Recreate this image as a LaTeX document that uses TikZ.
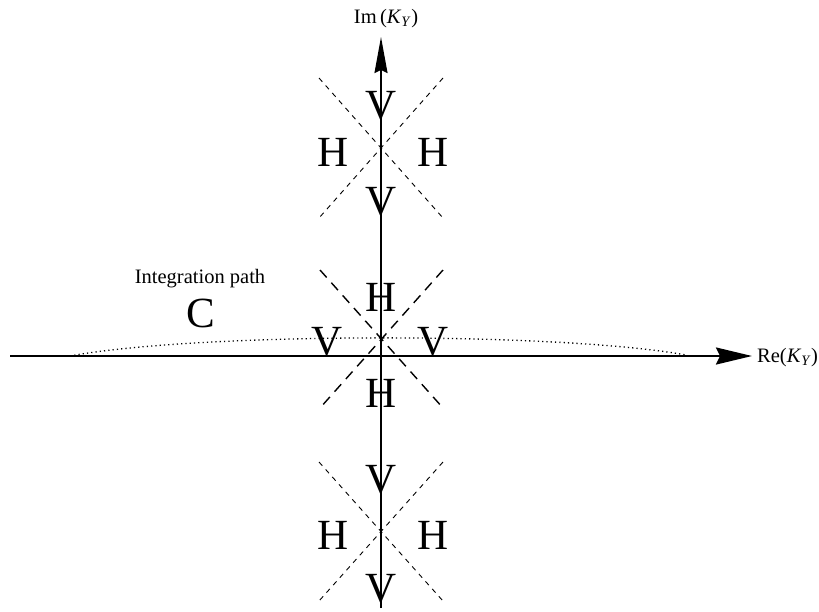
\documentclass[tikz,border=0pt]{standalone}
\usepackage{fontspec}
\setmainfont{Liberation Serif}
\usetikzlibrary{arrows.meta}
\begin{document}
\begin{tikzpicture}[x=1pt,y=-1pt,
  big/.style={inner sep=0pt,font=\fontsize{43}{50}\selectfont},
  lbl/.style={inner sep=0pt,font=\fontsize{20.5}{25}\selectfont},
  axis/.style={line width=2.2pt,-{Stealth[length=36pt,width=17pt,inset=4pt]}},
  vaxis/.style={line width=1.6pt,-{Stealth[length=36pt,width=13pt,inset=3pt]}},
  thindash/.style={line width=0.9pt,dash pattern=on 5pt off 5pt},
  thickdash/.style={line width=1.4pt,dash pattern=on 10pt off 7pt},
  pathdots/.style={line width=1.3pt,dash pattern=on 1.2pt off 3.1pt}]
\useasboundingbox (0,0) rectangle (819,611);

% axes
\coordinate (xs) at (10,356);
\coordinate (xe) at (752,356);
\coordinate (ys) at (381,608);
\coordinate (ye) at (381,37);
\draw[axis] (xs) -- (xe);
\draw[vaxis] (ys) -- (ye);
\node[lbl,anchor=base west] (re) at (757,362) {Re(\textit{K}\textsubscript{\textit{Y}})};
\node[lbl,anchor=base] (im) at (386,23) {Im\,(\textit{K}\textsubscript{\textit{Y}})};

% upper saddle
\coordinate (u1) at (319,78);  \coordinate (u2) at (443,218);
\coordinate (u3) at (443,78);  \coordinate (u4) at (319,218);
\draw[thindash] (u1) -- (u2);
\draw[thindash] (u3) -- (u4);
\node[big] (uh1) at (333,152) {H};
\node[big] (uh2) at (433,152) {H};
\node[big] (uv1) at (381,106) {V};
\node[big] (uv2) at (381,202) {V};

% central saddle
\coordinate (c1) at (320,270); \coordinate (c2) at (443,408);
\coordinate (c3) at (443,270); \coordinate (c4) at (320,408);
\draw[thickdash] (c1) -- (c2);
\draw[thickdash] (c3) -- (c4);
\node[big] (ch1) at (381,297) {H};
\node[big] (ch2) at (381,393) {H};
\node[big] (cv1) at (327,342) {V};
\node[big] (cv2) at (433,342) {V};

% lower saddle
\coordinate (l1) at (319,462); \coordinate (l2) at (443,601);
\coordinate (l3) at (443,462); \coordinate (l4) at (319,601);
\draw[thindash] (l1) -- (l2);
\draw[thindash] (l3) -- (l4);
\node[big] (lh1) at (333,535) {H};
\node[big] (lh2) at (433,535) {H};
\node[big] (lv1) at (381,480) {V};
\node[big] (lv2) at (381,589) {V};

% integration contour
\coordinate (ps) at (70,356);
\coordinate (pe) at (686,355);
\draw[pathdots] (ps) .. controls (200,332) and (560,332) .. (pe);
\node[lbl,anchor=base] (ip) at (200,283) {Integration path};
\node[big] (cc) at (201,313) {C};
\end{tikzpicture}
\end{document}
